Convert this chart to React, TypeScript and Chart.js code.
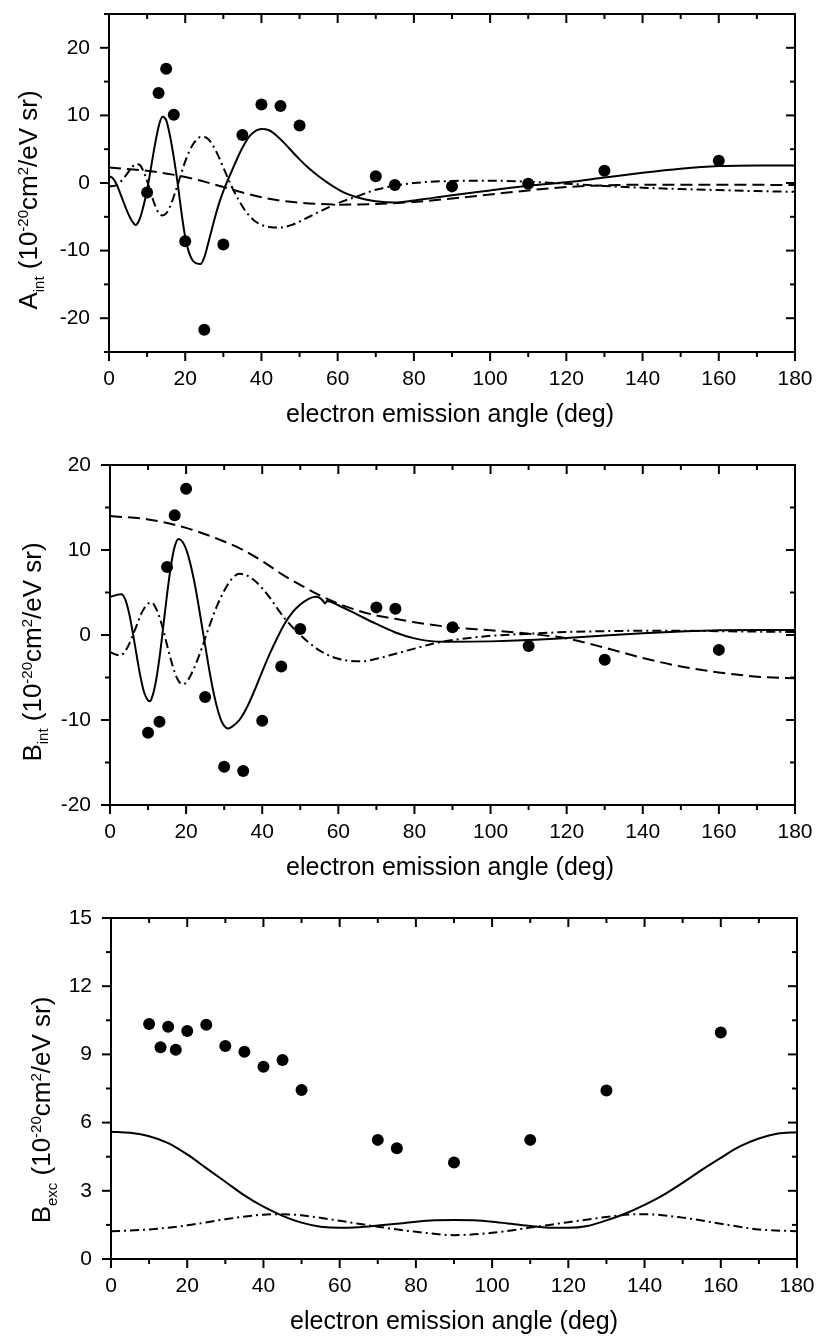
import React, { useEffect, useRef } from "react";
import { Chart, registerables } from "chart.js";

Chart.register(...registerables);

const FONT = "'Liberation Sans', Arial, Helvetica, sans-serif";

// ---------------- data ----------------
const expAngles = [10, 13, 15, 17, 20, 25, 30, 35, 40, 45, 50, 70, 75, 90, 110, 130, 160];
const aIntExp = [-1.4, 13.3, 16.9, 10.1, -8.6, -21.7, -9.1, 7.1, 11.6, 11.4, 8.5, 1.0, -0.3, -0.5, -0.1, 1.8, 3.3];
const bIntExp = [-11.5, -10.2, 8.0, 14.1, 17.2, -7.3, -15.5, -16.0, -10.1, -3.7, 0.7, 3.25, 3.1, 0.9, -1.3, -2.9, -1.75];
const bExcExp = [10.34, 9.31, 10.22, 9.2, 10.03, 10.3, 9.37, 9.12, 8.46, 8.75, 7.43, 5.24, 4.87, 4.24, 5.24, 7.41, 9.96];

const aIntSolidX = [0, 1, 2, 3, 4, 5, 6, 7, 8, 9, 10, 11, 12, 13, 14, 15, 16, 17, 18, 19, 20, 21, 22, 23, 24, 25, 26, 27, 28, 29, 30, 31, 32, 33, 35, 37, 40, 42, 44, 46, 48, 50, 52, 55, 58, 60, 62, 65, 68, 70, 75, 80, 85, 90, 100, 110, 120, 130, 140, 150, 160, 170, 180];
const aIntSolidY = [1.0, 0.7, -0.2, -1.6, -3.1, -4.5, -5.6, -6.2, -5.4, -3.5, -1.0, 2.2, 5.5, 8.3, 9.8, 9.3, 7.0, 3.8, 0.0, -4.3, -8.0, -10.3, -11.5, -11.9, -12.0, -11.0, -9.0, -6.8, -4.7, -2.8, -1.2, 0.2, 1.5, 2.8, 5.2, 7.0, 8.0, 7.8, 7.0, 5.9, 4.7, 3.5, 2.4, 1.0, -0.2, -0.9, -1.5, -2.1, -2.5, -2.7, -2.9, -2.6, -2.2, -1.8, -1.1, -0.4, 0.1, 0.8, 1.5, 2.1, 2.5, 2.6, 2.6];

const aIntDashX = [0, 10, 20, 25, 30, 35, 40, 45, 50, 55, 60, 70, 80, 90, 100, 110, 120, 130, 140, 160, 180];
const aIntDashY = [2.3, 1.8, 0.9, 0.2, -0.6, -1.4, -2.1, -2.6, -2.9, -3.1, -3.2, -3.1, -2.8, -2.3, -1.7, -1.1, -0.6, -0.35, -0.25, -0.25, -0.3];

const aIntDotX = [0, 2, 4, 6, 7, 8, 9, 10, 11, 12, 13, 14, 15, 16, 17, 18, 19, 20, 21, 22, 23, 24, 25, 26, 27, 28, 29, 30, 32, 34, 36, 38, 40, 42, 44, 46, 48, 50, 55, 60, 65, 70, 75, 80, 90, 100, 110, 120, 130, 140, 150, 160, 170, 180];
const aIntDotY = [-0.5, -0.3, 0.8, 2.3, 2.8, 2.7, 1.8, 0.3, -1.5, -3.2, -4.4, -4.8, -4.5, -3.5, -2.0, -0.3, 1.5, 3.2, 4.6, 5.7, 6.4, 6.8, 6.8, 6.5, 5.8, 4.8, 3.6, 2.3, -0.3, -2.5, -4.3, -5.5, -6.2, -6.5, -6.6, -6.5, -6.2, -5.7, -4.3, -3.0, -2.0, -1.0, -0.4, 0.0, 0.3, 0.35, 0.2, -0.1, -0.45, -0.7, -0.9, -1.05, -1.2, -1.3];

const bIntSolidX = [0, 1, 2, 3, 4, 5, 6, 7, 8, 9, 10, 10.5, 11, 12, 13, 14, 15, 16, 17, 18, 19, 20, 21, 22, 23, 24, 25, 26, 27, 28, 29, 30, 31, 32, 34, 36, 38, 40, 42, 44, 46, 48, 50, 52, 54, 55, 56, 56.5, 57, 58, 60, 65, 70, 75, 80, 85, 90, 100, 110, 120, 130, 140, 150, 160, 170, 180];
const bIntSolidY = [4.5, 4.6, 4.75, 4.8, 4.2, 2.6, 0.25, -2.4, -4.9, -6.8, -7.7, -7.8, -7.4, -5.6, -2.7, 1.0, 4.8, 8.1, 10.4, 11.3, 11.0, 10.1, 8.6, 6.6, 4.2, 1.5, -1.2, -3.9, -6.3, -8.3, -9.8, -10.7, -11.0, -10.8, -10.0, -8.5, -6.5, -4.3, -2.2, -0.3, 1.4, 2.7, 3.6, 4.2, 4.5, 4.4, 4.0, 3.7, 4.0, 3.9, 3.5, 2.4, 1.3, 0.3, -0.4, -0.75, -0.8, -0.75, -0.6, -0.35, -0.05, 0.2, 0.4, 0.55, 0.6, 0.6];

const bIntDashX = [0, 10, 20, 30, 35, 40, 45, 50, 55, 60, 65, 70, 75, 80, 90, 100, 110, 120, 130, 140, 150, 160, 170, 180];
const bIntDashY = [14.0, 13.6, 12.6, 11.0, 10.0, 8.7, 7.2, 5.9, 4.7, 3.7, 2.9, 2.3, 1.9, 1.5, 0.9, 0.55, 0.15, -0.4, -1.5, -2.7, -3.7, -4.4, -4.9, -5.1];

const bIntDotX = [0, 1, 2, 3, 4, 5, 6, 7, 8, 9, 10, 11, 12, 13, 14, 15, 16, 17, 18, 19, 20, 22, 24, 26, 28, 30, 32, 34, 36, 38, 40, 42, 44, 46, 48, 50, 52, 55, 58, 60, 63, 66, 70, 75, 80, 85, 90, 100, 110, 120, 130, 140, 150, 160, 170, 180];
const bIntDotY = [-2.0, -2.2, -2.35, -2.35, -1.9, -1.1, 0.0, 1.1, 2.3, 3.15, 3.7, 3.8, 3.2, 2.1, 0.6, -1.2, -2.9, -4.4, -5.4, -5.8, -5.6, -4.0, -1.7, 0.9, 3.3, 5.2, 6.6, 7.2, 7.0, 6.4, 5.5, 4.4, 3.1, 1.9, 0.9, 0.0, -0.8, -1.8, -2.5, -2.8, -3.05, -3.1, -2.8, -2.2, -1.6, -1.0, -0.6, -0.1, 0.15, 0.35, 0.45, 0.5, 0.5, 0.45, 0.4, 0.35];

const bExcSolidX = [0, 5, 10, 15, 20, 25, 30, 35, 40, 45, 50, 55, 60, 65, 70, 75, 80, 85, 90, 95, 100, 105, 110, 115, 120, 125, 130, 135, 140, 145, 150, 155, 160, 165, 170, 175, 180];
const bExcSolidY = [5.6, 5.55, 5.4, 5.1, 4.6, 4.0, 3.4, 2.8, 2.3, 1.9, 1.6, 1.42, 1.37, 1.4, 1.47, 1.55, 1.64, 1.7, 1.72, 1.7, 1.64, 1.55, 1.45, 1.38, 1.37, 1.45, 1.7, 2.0, 2.38, 2.82, 3.35, 3.92, 4.45, 4.95, 5.3, 5.52, 5.58];

const bExcDotX = [0, 10, 20, 30, 40, 45, 50, 60, 70, 80, 90, 100, 110, 120, 130, 135, 140, 150, 160, 170, 180];
const bExcDotY = [1.22, 1.3, 1.48, 1.75, 1.95, 1.97, 1.92, 1.68, 1.42, 1.2, 1.05, 1.15, 1.38, 1.62, 1.85, 1.95, 1.97, 1.82, 1.55, 1.3, 1.22];

const xTickValues = [0, 20, 40, 60, 80, 100, 120, 140, 160, 180];
const aIntTicks = [-20, -10, 0, 10, 20];
const bIntTicks = [-20, -10, 0, 10, 20];
const bExcTicks = [0, 3, 6, 9, 12, 15];

const X_TITLE = "electron emission angle (deg)";

// ---------------- styles ----------------
const DASH = [12, 6];
const DASH_DOT = [9, 4, 2, 4];
const W = 816;

type Part = { t: string; s: number; dy: number };
function yTitleParts(main: string, sub: string): Part[] {
  return [
    { t: main, s: 26, dy: 0 },
    { t: sub, s: 15, dy: 7 },
    { t: " (10", s: 26, dy: 0 },
    { t: "-20", s: 15, dy: -9 },
    { t: "cm", s: 26, dy: 0 },
    { t: "2", s: 15, dy: -9 },
    { t: "/eV sr)", s: 26, dy: 0 },
  ];
}

type Curve = { xs: number[]; ys: number[]; dash: number[] };

interface PanelProps {
  top: number;
  height: number;
  area: { left: number; top: number; right: number; bottom: number };
  yMin: number;
  yMax: number;
  yTicks: number[];
  yMinorStep: number;
  expY: number[];
  curves: Curve[];
  yMain: string;
  ySub: string;
  yTitleX: number;
  yTitleY: number;
  xTitleX: number;
  xTitleDy: number;
}

function Panel(p: PanelProps) {
  const ref = useRef<HTMLCanvasElement>(null);
  useEffect(() => {
    const canvas = ref.current;
    if (!canvas) return;
    const area = p.area;

    const frame = {
      id: "frame",
      afterDatasetsDraw(chart: any) {
        const ctx: CanvasRenderingContext2D = chart.ctx;
        const a = chart.chartArea;
        const xs = chart.scales.x;
        const ys = chart.scales.y;
        ctx.save();
        ctx.strokeStyle = "#000";
        ctx.lineWidth = 2;
        ctx.setLineDash([]);
        ctx.strokeRect(a.left, a.top, a.right - a.left, a.bottom - a.top);
        const seg = (x1: number, y1: number, x2: number, y2: number) => {
          ctx.beginPath();
          ctx.moveTo(x1, y1);
          ctx.lineTo(x2, y2);
          ctx.stroke();
        };
        for (let i = 0; i <= 18; i++) {
          const px = xs.getPixelForValue(i * 10);
          const len = i % 2 === 0 ? 9 : 5;
          seg(px, a.bottom, px, a.bottom + len);
          seg(px, a.top, px, a.top + len);
        }
        const n = Math.round((p.yMax - p.yMin) / p.yMinorStep);
        for (let i = 0; i <= n; i++) {
          const v = p.yMin + i * p.yMinorStep;
          const py = ys.getPixelForValue(v);
          const major = p.yTicks.some((t) => Math.abs(t - v) < 1e-6);
          const len = major ? 9 : 5;
          seg(a.left, py, a.left - len, py);
          seg(a.right, py, a.right - len, py);
        }
        // x title
        ctx.fillStyle = "#000";
        ctx.font = `25px ${FONT}`;
        ctx.textAlign = "center";
        ctx.textBaseline = "alphabetic";
        ctx.fillText(X_TITLE, p.xTitleX, a.bottom + p.xTitleDy);
        // y title (rotated, with sub/superscripts)
        const parts = yTitleParts(p.yMain, p.ySub);
        ctx.translate(p.yTitleX, p.yTitleY);
        ctx.rotate(-Math.PI / 2);
        ctx.textAlign = "left";
        let total = 0;
        for (const q of parts) {
          ctx.font = `${q.s}px ${FONT}`;
          total += ctx.measureText(q.t).width;
        }
        let x = -total / 2;
        for (const q of parts) {
          ctx.font = `${q.s}px ${FONT}`;
          ctx.fillText(q.t, x, q.dy);
          x += ctx.measureText(q.t).width;
        }
        ctx.restore();
      },
    };

    const datasets: any[] = [
      {
        label: "experiment",
        data: expAngles.map((x, i) => ({ x, y: p.expY[i] })),
        showLine: false,
        pointRadius: 6,
        pointBackgroundColor: "#000",
        pointBorderWidth: 0,
        borderColor: "#000",
      },
      ...p.curves.map((c, k) => ({
        label: "curve" + k,
        data: c.xs.map((x, i) => ({ x, y: c.ys[i] })),
        borderColor: "#000",
        borderWidth: 2,
        borderDash: c.dash,
        pointRadius: 0,
        fill: false,
        cubicInterpolationMode: "monotone",
      })),
    ];

    const tickFont = { size: 21, family: FONT };
    const chart = new Chart(canvas, {
      type: "line",
      data: { datasets },
      options: {
        responsive: false,
        maintainAspectRatio: false,
        animation: false,
        events: [],
        layout: { padding: { left: 0, top: area.top, right: W - area.right, bottom: 0 } },
        plugins: { legend: { display: false }, tooltip: { enabled: false }, title: { display: false } },
        scales: {
          x: {
            type: "linear",
            min: 0,
            max: 180,
            afterBuildTicks: (s: any) => {
              s.ticks = xTickValues.map((v) => ({ value: v }));
            },
            afterFit: (s: any) => {
              s.height = p.height - area.bottom;
              s.paddingLeft = 0;
              s.paddingRight = 0;
            },
            grid: { display: false, drawTicks: false },
            border: { display: false },
            ticks: { font: tickFont, color: "#000", padding: 15, maxRotation: 0, autoSkip: false },
          },
          y: {
            type: "linear",
            min: p.yMin,
            max: p.yMax,
            afterBuildTicks: (s: any) => {
              s.ticks = p.yTicks.map((v) => ({ value: v }));
            },
            afterFit: (s: any) => {
              s.width = area.left;
              s.paddingTop = 0;
              s.paddingBottom = 0;
            },
            grid: { display: false, drawTicks: false },
            border: { display: false },
            ticks: { font: tickFont, color: "#000", padding: 19, autoSkip: false },
          },
        },
      } as any,
      plugins: [frame],
    });
    return () => chart.destroy();
  }, []);

  return (
    <div style={{ position: "absolute", left: 0, top: p.top, width: W, height: p.height }}>
      <canvas ref={ref} width={W} height={p.height} style={{ display: "block" }} />
    </div>
  );
}

export default function App() {
  return (
    <div style={{ position: "absolute", left: 0, top: 0, width: W, height: 1342, background: "#fff" }}>
      <Panel
        top={0}
        height={440}
        area={{ left: 109, top: 14, right: 795, bottom: 352 }}
        yMin={-25}
        yMax={25}
        yTicks={aIntTicks}
        yMinorStep={5}
        expY={aIntExp}
        curves={[
          { xs: aIntSolidX, ys: aIntSolidY, dash: [] },
          { xs: aIntDashX, ys: aIntDashY, dash: DASH },
          { xs: aIntDotX, ys: aIntDotY, dash: DASH_DOT },
        ]}
        yMain="A"
        ySub="int"
        yTitleX={37}
        yTitleY={200}
        xTitleX={450}
        xTitleDy={70}
      />
      <Panel
        top={440}
        height={440}
        area={{ left: 110, top: 25, right: 795, bottom: 365 }}
        yMin={-20}
        yMax={20}
        yTicks={bIntTicks}
        yMinorStep={5}
        expY={bIntExp}
        curves={[
          { xs: bIntSolidX, ys: bIntSolidY, dash: [] },
          { xs: bIntDashX, ys: bIntDashY, dash: DASH },
          { xs: bIntDotX, ys: bIntDotY, dash: DASH_DOT },
        ]}
        yMain="B"
        ySub="int"
        yTitleX={41}
        yTitleY={212}
        xTitleX={450}
        xTitleDy={70}
      />
      <Panel
        top={880}
        height={462}
        area={{ left: 111, top: 38, right: 797, bottom: 379 }}
        yMin={0}
        yMax={15}
        yTicks={bExcTicks}
        yMinorStep={1.5}
        expY={bExcExp}
        curves={[
          { xs: bExcSolidX, ys: bExcSolidY, dash: [] },
          { xs: bExcDotX, ys: bExcDotY, dash: DASH_DOT },
        ]}
        yMain="B"
        ySub="exc"
        yTitleX={50}
        yTitleY={230}
        xTitleX={454}
        xTitleDy={70}
      />
    </div>
  );
}
